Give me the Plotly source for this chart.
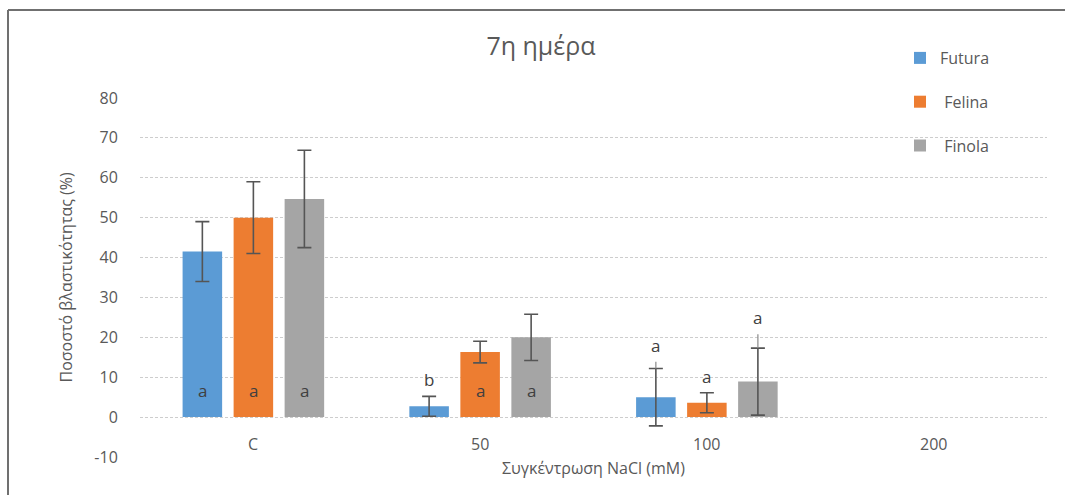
import plotly.graph_objects as go

# Germination percentage on day 7 under increasing NaCl concentration
categories = ["C", "50", "100", "200"]
series_names = ["Futura", "Felina", "Finola"]
legend_texts = ["Futura", " Felina", " Finola"]

futura = [41.5, 2.7, 5.0, 0]
felina = [50.0, 16.3, 3.6, 0]
finola = [54.7, 20.0, 8.9, 0]

futura_err = [7.5, 2.5, 7.2, 0]
felina_err = [9.0, 2.7, 2.5, 0]
finola_err = [12.2, 5.8, 8.4, 0]

# faint whisker extension above the error-bar cap
futura_whisker_up = [0, 0, 1.7, 0]
finola_whisker_up = [0, 0, 3.5, 0]

# significance letters for each bar
futura_letters = ["a", "b", "a", ""]
felina_letters = ["a", "a", "a", ""]
finola_letters = ["a", "a", "a", ""]

y_ticks = [-10, 0, 10, 20, 30, 40, 50, 60, 70, 80]

colors = ["#5b9bd5", "#ed7d31", "#a5a5a5"]
text_color = "#595959"
font_family = "Open Sans, Noto Sans, DejaVu Sans, sans-serif"

W, H = 1065, 495
margin = dict(l=140, r=18, t=98, b=38)
plot_w = W - margin["l"] - margin["r"]
plot_h = H - margin["t"] - margin["b"]
bargap = 0.325
bargroupgap = 0.225
slot_px = plot_w / len(categories) * (1 - bargap) / 3
positions = list(range(len(categories)))

values = [futura, felina, finola]
errors = [futura_err, felina_err, finola_err]
letters = [futura_letters, felina_letters, finola_letters]
whisker_ups = [futura_whisker_up, [0] * len(categories), finola_whisker_up]


def cap_top(idx, j):
    return values[idx][j] + errors[idx][j]


def shown(seq, keep):
    # zero-germination points get no bar and no error bar
    return [s if k else None for s, k in zip(seq, keep)]


fig = go.Figure()

for idx, name in enumerate(series_names):
    keep = [v != 0 for v in values[idx]]
    fig.add_trace(go.Bar(
        x=positions, y=shown(values[idx], keep),
        name=legend_texts[idx],
        offsetgroup=str(idx),
        legendgroup=name,
        marker=dict(color=colors[idx], line=dict(width=0)),
        error_y=dict(type="data", array=shown(errors[idx], keep), visible=True,
                     color="#555555", thickness=1.6, width=7),
    ))

# faint whisker extensions, starting at the cap of each error bar
for idx in (0, 2):
    keep = [u != 0 for u in whisker_ups[idx]]
    fig.add_trace(go.Bar(
        x=positions, y=shown([cap_top(idx, j) for j in positions], keep),
        offsetgroup=str(idx),
        marker=dict(color="rgba(0,0,0,0)", line=dict(width=0)),
        error_y=dict(type="data", symmetric=False,
                     array=shown(whisker_ups[idx], keep),
                     arrayminus=shown([0] * len(positions), keep),
                     color="#8a8a8a", thickness=1.2, width=0),
        showlegend=False, hoverinfo="skip",
    ))

annotations = []
for idx in range(3):
    for j in positions:
        letter = letters[idx][j]
        if not letter:
            continue
        v = values[idx][j]
        if v >= 10:
            # inside the bar, near its base
            annotations.append(dict(
                x=j, y=0, xref="x", yref="y", text=letter, showarrow=False,
                xshift=(idx - 1) * slot_px, yanchor="bottom", yshift=13,
                font=dict(size=17, color="#404040", family=font_family)))
        else:
            top = cap_top(idx, j) + whisker_ups[idx][j]
            annotations.append(dict(
                x=j, y=top, xref="x", yref="y", text=letter, showarrow=False,
                xshift=(idx - 1) * slot_px, yanchor="bottom", yshift=3,
                font=dict(size=17, color="#404040", family=font_family)))

# category labels sit just below the zero line
for j, cat in zip(positions, categories):
    annotations.append(dict(
        x=j, y=0, xref="x", yref="y", text=cat, showarrow=False,
        yanchor="top", yshift=-14,
        font=dict(size=16, color=text_color, family=font_family)))

annotations.append(dict(
    x=0.5, y=-11 / plot_h, xref="paper", yref="paper",
    text="Συγκέντρωση NaCl (mM)", showarrow=False,
    xanchor="center", yanchor="middle",
    font=dict(size=16, color=text_color, family=font_family)))

annotations.append(dict(
    x=(65 - margin["l"]) / plot_w, y=0.5, xref="paper", yref="paper",
    text="Ποσοστό βλαστικότητας (%)", showarrow=False, textangle=-90,
    xanchor="center", yanchor="middle",
    font=dict(size=16, color=text_color, family=font_family)))

# chart frame (top and left edges)
shapes = [
    dict(type="line", xref="paper", yref="paper",
         x0=(8 - margin["l"]) / plot_w, x1=(W + 5 - margin["l"]) / plot_w,
         y0=1 + (margin["t"] - 10) / plot_h, y1=1 + (margin["t"] - 10) / plot_h,
         line=dict(color="#707070", width=2)),
    dict(type="line", xref="paper", yref="paper",
         x0=(8 - margin["l"]) / plot_w, x1=(8 - margin["l"]) / plot_w,
         y0=1 + (margin["t"] - 10) / plot_h, y1=-(margin["b"] + 5) / plot_h,
         line=dict(color="#707070", width=2)),
]

fig.update_layout(
    width=W, height=H, margin=margin,
    paper_bgcolor="white", plot_bgcolor="white",
    barmode="group", bargap=bargap, bargroupgap=bargroupgap,
    font=dict(family=font_family, color=text_color),
    title=dict(text="7η ημέρα", x=541 / W, xanchor="center",
               y=1 - 46 / H, yanchor="middle",
               font=dict(size=25, color=text_color, family=font_family)),
    legend=dict(x=(900 - margin["l"]) / plot_w, y=1 + (margin["t"] - 41) / plot_h,
                xanchor="left", yanchor="top", bgcolor="rgba(0,0,0,0)",
                tracegroupgap=20, itemwidth=30,
                font=dict(size=16, color=text_color, family=font_family)),
    xaxis=dict(range=[-0.5, len(categories) - 0.5], showticklabels=False,
               showgrid=False, zeroline=False, showline=False, ticks=""),
    yaxis=dict(range=[-10, 80], tickvals=y_ticks,
               ticktext=[str(t) for t in y_ticks],
               showgrid=True, gridcolor="#cdcdcd", gridwidth=1,
               griddash="3px,2px", zeroline=False, showline=False,
               ticks="outside", ticklen=18, tickcolor="rgba(0,0,0,0)",
               tickfont=dict(size=16, color=text_color, family=font_family)),
    annotations=annotations, shapes=shapes,
)

fig.write_html("out.html")
